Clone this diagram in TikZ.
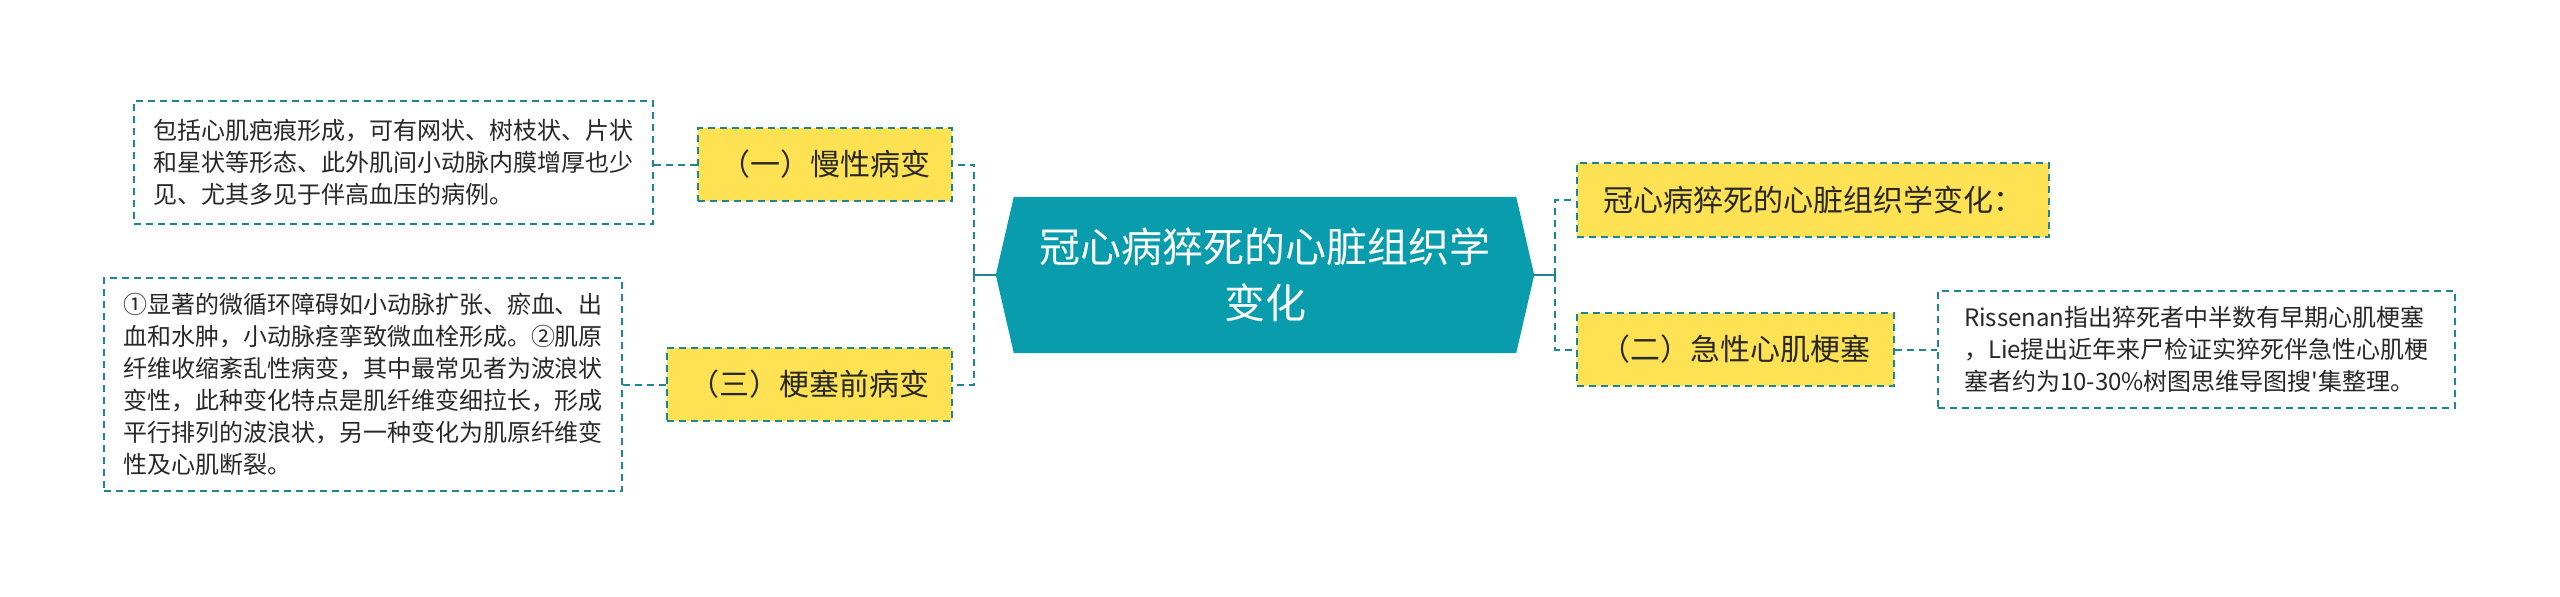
\documentclass[tikz,border=0pt]{standalone}
\usepackage{fontspec}
\newfontfamily\cjk{Noto Sans CJK SC}
\usetikzlibrary{backgrounds}
\definecolor{hexfill}{RGB}{8,156,172}
\definecolor{dashcol}{RGB}{28,134,148}
\definecolor{yel}{RGB}{255,226,84}
\definecolor{txt}{RGB}{40,40,40}
\begin{document}
\begin{tikzpicture}[x=1pt,y=-1pt,
  conn/.style={draw=dashcol,line width=2pt,dash pattern=on 7pt off 5pt},
  stub/.style={draw=dashcol,line width=2.5pt},
  ybox/.style={draw=dashcol,line width=2pt,dash pattern=on 7pt off 5pt,fill=yel,
    font=\cjk\fontsize{30}{36}\selectfont,text=txt,inner sep=0pt,align=center},
  tbox/.style={draw=dashcol,line width=2pt,dash pattern=on 7pt off 5pt,fill=white,
    font=\cjk\fontsize{24}{32}\selectfont,text=txt,inner sep=0pt,align=left},
  hexnode/.style={font=\cjk\fontsize{41}{56}\selectfont,text=white,align=center,
    inner sep=0pt,minimum width=538pt,minimum height=156pt}]
\useasboundingbox (0,0) rectangle (2560,597);

% centre
\node[hexnode] (hex) at (1265,275) {冠心病猝死的心脏组织学\\变化};
\begin{scope}[on background layer]
  \fill[hexfill] (hex.west) -- ([xshift=18pt]hex.north west) -- ([xshift=-18pt]hex.north east)
    -- (hex.east) -- ([xshift=-18pt]hex.south east) -- ([xshift=18pt]hex.south west) -- cycle;
\end{scope}

% branch boxes
\node[ybox,minimum width=254pt,minimum height=73pt] (B1) at (825,164.5) {（一）慢性病变};
\node[ybox,minimum width=285pt,minimum height=73pt] (B3) at (809.5,384.5) {（三）梗塞前病变};
\node[ybox,minimum width=472pt,minimum height=74pt] (R1) at (1813,200) {冠心病猝死的心脏组织学变化：};
\node[ybox,minimum width=317pt,minimum height=73pt] (R2) at (1735.5,349.5) {（二）急性心肌梗塞};

% detail boxes
\node[tbox,minimum width=519pt,minimum height=123pt] (T1) at (393.5,162.5)
  {包括心肌疤痕形成，可有网状、树枝状、片状\\和星状等形态、此外肌间小动脉内膜增厚也少\\见、尤其多见于伴高血压的病例。};
\node[tbox,minimum width=518pt,minimum height=213pt] (T3) at (363,384.5)
  {①显著的微循环障碍如小动脉扩张、瘀血、出\\血和水肿，小动脉痉挛致微血栓形成。②肌原\\纤维收缩紊乱性病变，其中最常见者为波浪状\\变性，此种变化特点是肌纤维变细拉长，形成\\平行排列的波浪状，另一种变化为肌原纤维变\\性及心肌断裂。};
\node[tbox,minimum width=517pt,minimum height=117pt] (T2) at (2196.5,349.5)
  {Rissenan指出猝死者中半数有早期心肌梗塞\\，Lie提出近年来尸检证实猝死伴急性心肌梗\\塞者约为10-30\%树图思维导图搜'集整理。};

% bus points
\coordinate (cL) at (974,275);
\coordinate (cR) at (1555,275);

% connectors
\draw[stub] (hex.west) -- (cL);
\draw[stub] ([yshift=-7pt]cL) -- ([yshift=7pt]cL);
\draw[stub] (hex.east) -- (cR);
\draw[stub] ([yshift=-7pt]cR) -- ([yshift=7pt]cR);
\draw[conn] (cL) |- (B1.east);
\draw[conn] (cL) |- (B3.east);
\draw[conn] (cR) |- (R1.west);
\draw[conn] (cR) |- (R2.west);
\draw[conn] (B1.west) -- (B1.west -| T1.east);
\draw[conn] (B3.west) -- (B3.west -| T3.east);
\draw[conn] (R2.east) -- (R2.east -| T2.west);
\end{tikzpicture}
\end{document}
